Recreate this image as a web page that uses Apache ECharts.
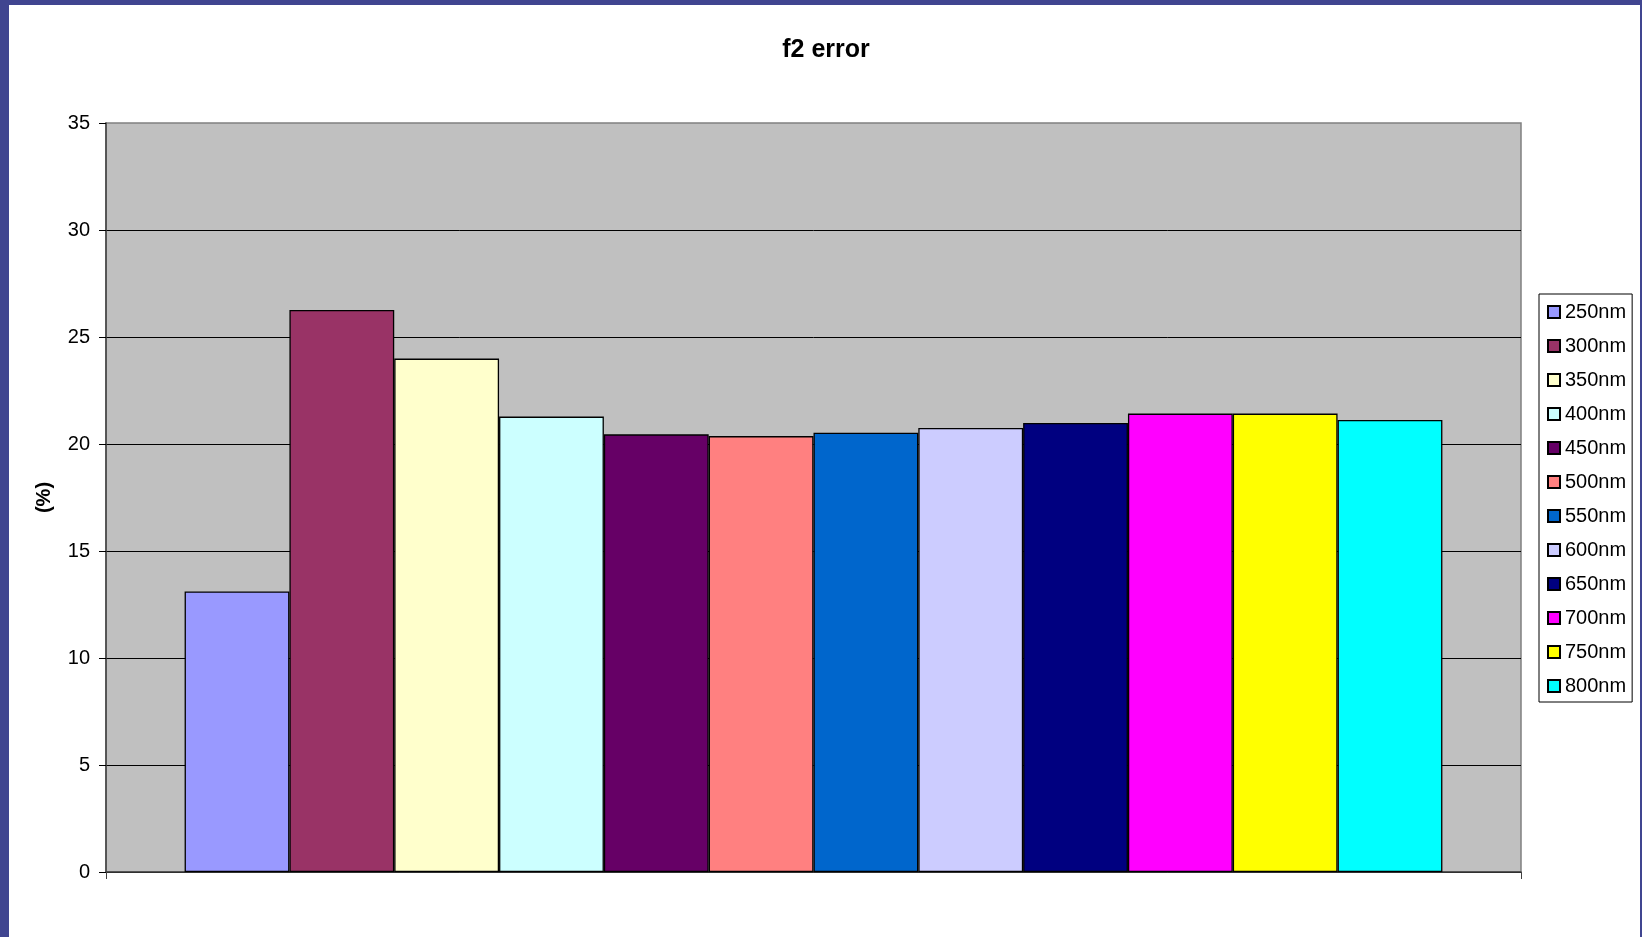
<!DOCTYPE html>
<html>
<head>
<meta charset="utf-8">
<title>f2 error</title>
<script src="https://cdn.jsdelivr.net/npm/echarts@6/dist/echarts.min.js"></script>
<style>
  html, body { margin: 0; padding: 0; background: #ffffff; }
  #chart { width: 1642px; height: 937px; }
</style>
</head>
<body>
<div id="chart"></div>
<script>
// Wavelength series and their f2 error (%)
const wavelengths = ['250nm', '300nm', '350nm', '400nm', '450nm', '500nm',
                     '550nm', '600nm', '650nm', '700nm', '750nm', '800nm'];
const errors = [13.11, 26.26, 23.99, 21.28, 20.45, 20.37,
                20.53, 20.75, 20.98, 21.42, 21.42, 21.12];
const colors = ['#9999FF', '#993366', '#FFFFCC', '#CCFFFF', '#660066', '#FF8080',
                '#0066CC', '#CCCCFF', '#000080', '#FF00FF', '#FFFF00', '#00FFFF'];
const yTicks = { min: 0, max: 35, step: 5 };

const FONT = '"Liberation Sans", Arial, sans-serif';
const FRAME = '#404590';

const series = wavelengths.map((name, i) => ({
  name: name,
  type: 'bar',
  data: [errors[i]],
  barGap: '0%',
  barCategoryGap: '11.11%',
  itemStyle: { color: colors[i], borderColor: '#000000', borderWidth: 1.3 },
  emphasis: { disabled: true }
}));

const chart = echarts.init(document.getElementById('chart'), null, { renderer: 'canvas' });
chart.setOption({
  animation: false,
  backgroundColor: '#ffffff',
  title: {
    text: 'f2 error',
    left: 821,
    textAlign: 'center',
    top: 33,
    textStyle: { fontFamily: FONT, fontSize: 25, fontWeight: 'bold', color: '#000000' }
  },
  legend: {
    orient: 'vertical',
    left: 1539,
    top: 294,
    padding: [8, 6, 6, 8],
    itemGap: 14,
    itemWidth: 12,
    itemHeight: 12,
    icon: 'rect',
    backgroundColor: '#ffffff',
    borderColor: '#000000',
    borderWidth: 1,
    borderRadius: 0,
    textStyle: { fontFamily: FONT, fontSize: 20, color: '#000000', lineHeight: 20 },
    data: wavelengths
  },
  grid: {
    left: 106, top: 123, right: 121, bottom: 65,
    show: true,
    backgroundColor: '#C0C0C0',
    borderColor: '#808080',
    borderWidth: 1.5
  },
  xAxis: {
    type: 'category',
    data: [''],
    axisLine: { lineStyle: { color: '#404040', width: 1.5 } },
    axisTick: { show: true, length: 7, lineStyle: { color: '#404040' } },
    axisLabel: { show: false },
    splitLine: { show: false }
  },
  yAxis: {
    type: 'value',
    min: yTicks.min,
    max: yTicks.max,
    interval: yTicks.step,
    name: '(%)',
    nameLocation: 'middle',
    nameGap: 52,
    nameTextStyle: { fontFamily: FONT, fontSize: 20, fontWeight: 'bold', color: '#000000' },
    axisLine: { show: true, lineStyle: { color: '#404040', width: 1.5 } },
    axisTick: { show: true, length: 7, lineStyle: { color: '#000000' } },
    axisLabel: { fontFamily: FONT, fontSize: 20, color: '#000000', margin: 16 },
    splitLine: { show: true, showMaxLine: false, lineStyle: { color: '#000000', width: 1 } }
  },
  graphic: [
    // slide frame around the chart
    { type: 'rect', shape: { x: 0, y: 0, width: 1642, height: 5 }, style: { fill: FRAME }, silent: true },
    { type: 'rect', shape: { x: 0, y: 0, width: 9, height: 937 }, style: { fill: FRAME }, silent: true },
    { type: 'rect', shape: { x: 1640, y: 0, width: 2, height: 937 }, style: { fill: FRAME }, silent: true }
  ],
  series: series
});
</script>
</body>
</html>
